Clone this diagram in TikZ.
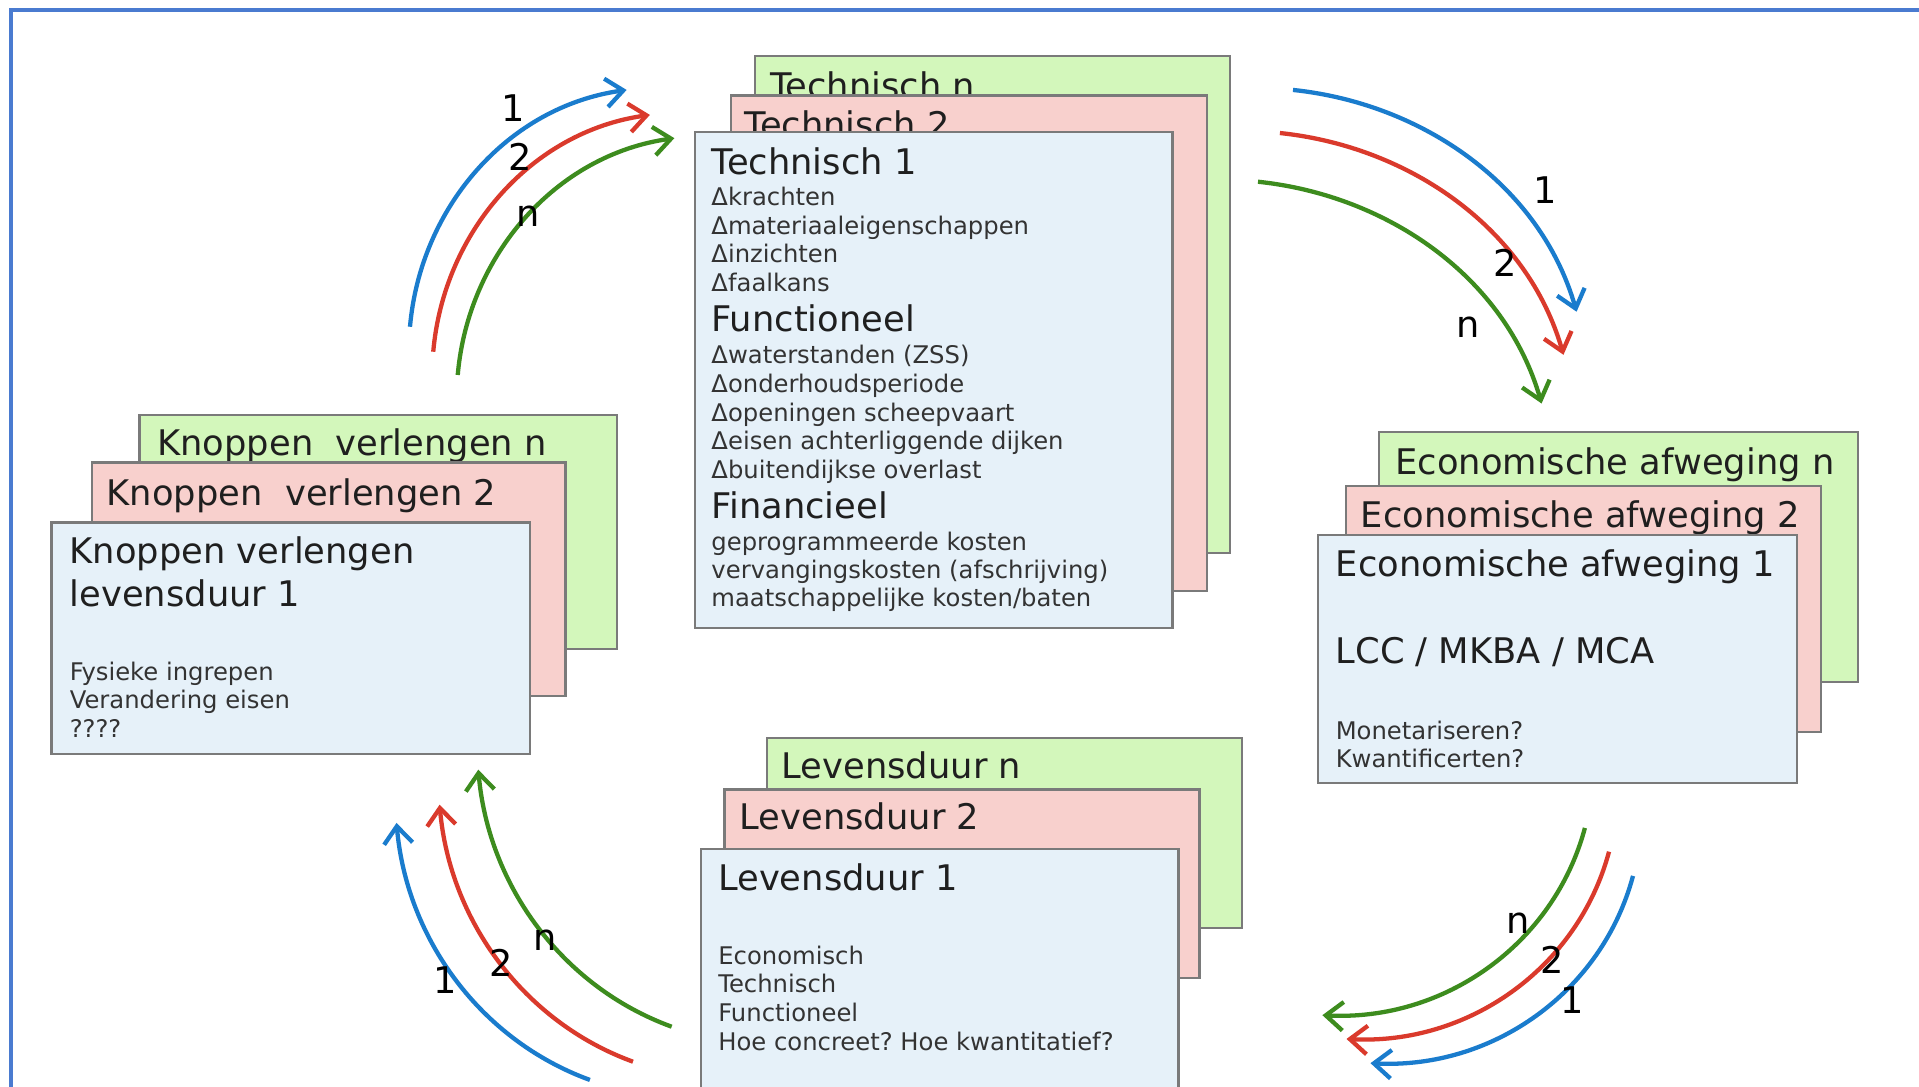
\documentclass[tikz,border=0pt]{standalone}
\usepackage{fontspec}
\setmainfont{DejaVu Sans}
\usetikzlibrary{arrows.meta}
\frenchspacing

\definecolor{cardgreen}{HTML}{D3F7BB}
\definecolor{cardred}{HTML}{F8D0CD}
\definecolor{cardblue}{HTML}{E6F1F9}
\definecolor{cardline}{HTML}{7A7A7A}
\definecolor{arrblue}{HTML}{1A7CCD}
\definecolor{arrred}{HTML}{DA3A2C}
\definecolor{arrgreen}{HTML}{3D8C1E}
\definecolor{framecol}{HTML}{4A7BD0}

\begin{document}
\begin{tikzpicture}[x=0.6pt,y=-0.6pt,
    card/.style={draw=cardline,line width=1.1pt},
    head/.style={anchor=base west,inner sep=0pt,text=black!88,
      font=\fontsize{17.3}{20.8}\selectfont},
    body/.style={anchor=base west,inner sep=0pt,text=black!80,
      font=\fontsize{11.9}{14}\selectfont},
    num/.style={inner sep=0pt,font=\fontsize{18}{21}\selectfont},
    arr/.style={line width=2.1pt,-{Straight Barb[length=8.5pt,width=14pt]}}]
  \useasboundingbox (0,0) rectangle (1568,888);
  \fill[white] (0,0) rectangle (1568,888);
  \draw[framecol,line width=1.5pt] (9,900) -- (9,8.2) -- (1580,8.2);

  % technisch
  \draw[card,fill=cardgreen] (617,46) rectangle (1005,452);
  \node[head] (tech n) at (629,80.4) {Technisch n};
  \draw[card,fill=cardred] (597,78) rectangle (986,483);
  \node[head] (tech 2) at (608,112.4) {Technisch 2};
  \draw[card,fill=cardblue] (568,108) rectangle (958,513);
  \node[head] (tech 1) at (581,142.4) {Technisch 1};
  \foreach \t [count=\i from 0] in {Δkrachten,Δmateriaaleigenschappen,Δinzichten,Δfaalkans}
    \node[body] (tech a\i) at (581,168+23.3*\i) {\t};
  \node[head] (func) at (581,270.6) {Functioneel};
  \foreach \t [count=\i from 0] in {Δwaterstanden (ZSS),Δonderhoudsperiode,
      Δopeningen scheepvaart,Δeisen achterliggende dijken,Δbuitendijkse overlast}
    \node[body] (tech b\i) at (581,297.2+23.45*\i) {\t};
  \node[head] (fin) at (581,423.8) {Financieel};
  \foreach \t [count=\i from 0] in {geprogrammeerde kosten,
      vervangingskosten (afschrijving),maatschappelijke kosten/baten}
    \node[body] (tech c\i) at (581,449.8+23*\i) {\t};

  % knoppen verlengen
  \draw[card,fill=cardgreen] (114,339) rectangle (504,530);
  \node[head] (knop n) at (128.3,372) {Knoppen\ \ verlengen n};
  \draw[card,fill=cardred] (75,378) rectangle (462,569);
  \node[head] (knop 2) at (86.9,412.7) {Knoppen\ \ verlengen 2};
  \draw[card,fill=cardblue] (42,427) rectangle (433,616);
  \node[head] (knop 1) at (56.7,460.6) {Knoppen verlengen};
  \node[head] (knop 1b) at (56.7,495.3) {levensduur 1};
  \foreach \t [count=\i from 0] in {Fysieke ingrepen,Verandering eisen,????}
    \node[body] (knop a\i) at (56.7,556.2+23*\i) {\t};

  % economische afweging
  \draw[card,fill=cardgreen] (1127,353) rectangle (1518,557);
  \node[head] (eco n) at (1139.8,387.7) {Economische afweging n};
  \draw[card,fill=cardred] (1100,397) rectangle (1488,598);
  \node[head] (eco 2) at (1111.5,430.7) {Economische afweging 2};
  \draw[card,fill=cardblue] (1077,437) rectangle (1468,640);
  \node[head] (eco 1) at (1091.1,471.2) {Economische afweging 1};
  \node[head] (lcc) at (1091.1,542.3) {LCC / MKBA / MCA};
  \node[body] (eco a0) at (1091.1,603.9) {Monetariseren?};
  \node[body] (eco a1) at (1091.1,627.1) {Kwantificerten?};

  % levensduur
  \draw[card,fill=cardgreen] (627,603) rectangle (1015,758);
  \node[head] (lev n) at (638.5,636.4) {Levensduur n};
  \draw[card,fill=cardred] (592,645) rectangle (980,799);
  \node[head] (lev 2) at (604.1,677.7) {Levensduur 2};
  \draw[card,fill=cardblue] (573,694) rectangle (963,920);
  \node[head] (lev 1) at (586.6,727.9) {Levensduur 1};
  \foreach \t [count=\i from 0] in {Economisch,Technisch,Functioneel,
      Hoe concreet? Hoe kwantitatief?}
    \node[body] (lev a\i) at (586.6,787.7+23.5*\i) {\t};

  % pijlen
  \foreach \c/\x/\y [count=\k] in {arrblue/335/267,arrred/354/287.4,arrgreen/374/306.4}{
    \coordinate (tl s\k) at (\x,\y);
    \coordinate (tl e\k) at (\x+177,\y-193.5);
    \draw[arr,\c] (tl s\k) .. controls +(8.5,-97.6) and +(-97,13.6) .. (tl e\k);
  }
  \foreach \c/\x/\y [count=\k] in {arrblue/1056.5/73.5,arrred/1045.8/108.7,arrgreen/1027.9/148.5}{
    \coordinate (tr s\k) at (\x,\y);
    \coordinate (tr e\k) at (\x+231.7,\y+181.2);
    \draw[arr,\c] (tr s\k) .. controls +(106.5,11.2) and +(-29.5,-102.8) .. (tr e\k);
  }
  \foreach \c/\x/\y [count=\k] in {arrblue/1334.3/715.7,arrred/1314.7/695.9,arrgreen/1295/676.5}{
    \coordinate (br s\k) at (\x,\y);
    \coordinate (br e\k) at (\x-214.5,\y+153);
    \draw[arr,\c] (br s\k) .. controls +(-25.6,95.6) and +(98.9,5.2) .. (br e\k);
  }
  \foreach \c/\x/\y [count=\k] in {arrblue/482/882.4,arrred/517.2/867.5,arrgreen/548.8/838.9}{
    \coordinate (bl s\k) at (\x,\y);
    \coordinate (bl e\k) at (\x-158,\y-210);
    \draw[arr,\c] (bl s\k) .. controls +(-89.3,-32.5) and +(8.3,94.6) .. (bl e\k);
  }

  % nummers
  \foreach \t/\x/\y in {1/419/88,2/425/128,n/431.4/177}
    \node[num] (tl lab\t) at (\x,\y) {\t};
  \foreach \t/\x/\y in {1/1262.4/155.2,2/1229.7/214.9,n/1199.5/267.2}
    \node[num] (tr lab\t) at (\x,\y) {\t};
  \foreach \t/\x/\y in {1/1284.4/817,2/1268/784.4,n/1240.3/754.2}
    \node[num] (br lab\t) at (\x,\y) {\t};
  \foreach \t/\x/\y in {1/363.6/800.7,2/409.9/786.8,n/445.3/768}
    \node[num] (bl lab\t) at (\x,\y) {\t};
\end{tikzpicture}
\end{document}
